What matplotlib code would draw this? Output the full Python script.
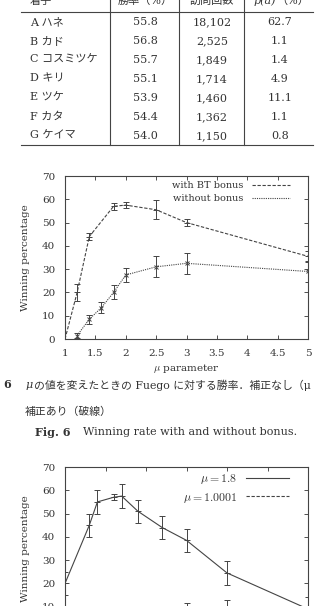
import matplotlib
matplotlib.use('Agg')
import matplotlib.pyplot as plt
from matplotlib.lines import Line2D

plt.rcParams['font.family'] = ['DejaVu Serif', 'Noto Sans CJK JP']
plt.rcParams['mathtext.fontset'] = 'cm'

# table
header = ['着手', '勝率（%）', '訪問回数']
moves = ['A ハネ', 'B カド', 'C コスミツケ', 'D キリ', 'E ツケ', 'F カタ', 'G ケイマ']
win_rate = [55.8, 56.8, 55.7, 55.1, 53.9, 54.4, 54.0]
visits = [18102, 2525, 1849, 1714, 1460, 1362, 1150]
prob = [62.7, 1.1, 1.4, 4.9, 11.1, 1.1, 0.8]

# Fig. 6
mu_bt = [1.0, 1.2, 1.4, 1.8, 2.0, 2.5, 3.0, 5.0]
win_bt = [0, 20, 44, 57, 57.5, 55.5, 50, 35.5]
err_bt = [0, 3.5, 1.5, 1.5, 1.2, 4, 1.5, 2.5]
mu_nb = [1.2, 1.4, 1.6, 1.8, 2.0, 2.5, 3.0, 5.0]
win_nb = [1.5, 8.5, 13.5, 20, 27.5, 31, 32.5, 29]
err_nb = [1, 2, 2.5, 3, 3, 4.5, 4.5, 4.5]

# Fig. 7 (lower part cut off)
x7 = [0, 0.6, 0.8, 1.2, 1.4, 1.8, 2.4, 3, 4, 6]
win_18 = [20, 45, 55, 57, 57.5, 51, 44, 38.5, 24.5, 9]
err_18 = [5, 5, 5, 1.2, 5, 5, 5, 5, 5, 5]
win_10001 = [0, 1, 2, 3, 4, 4, 5, 7, 8, 5]
err_10001 = [0.5, 1.5, 2, 2.5, 2.5, 3, 4, 4.5, 5, 4]

W, H = 316, 606
TXT = '#333333'
LN = '#444444'

fig = plt.figure(figsize=(W / 100, H / 100), dpi=100)
fig.patch.set_facecolor('white')


def fx(px):
    return px / W


def fy(py):
    return 1 - py / H


def ftext(x, y, s, **kw):
    kw.setdefault('fontsize', 8)
    kw.setdefault('color', TXT)
    kw.setdefault('va', 'center')
    fig.text(fx(x), fy(y), s, **kw)


def hline(x0, x1, y):
    fig.add_artist(Line2D([fx(x0), fx(x1)], [fy(y), fy(y)], color=LN, lw=0.8,
                          transform=fig.transFigure))


def vline(x, y0, y1):
    fig.add_artist(Line2D([fx(x), fx(x)], [fy(y0), fy(y1)], color=LN, lw=0.8,
                          transform=fig.transFigure))


# ---- table ----
col_c = [145, 212, 280]
ftext(30, 1, header[0])
ftext(col_c[0], 1, header[1], ha='center')
ftext(col_c[1], 1, header[2], ha='center')
ftext(col_c[2] - 4, 1, 'p(a)', ha='right', style='italic')
ftext(col_c[2] - 4, 1, '（%）', ha='left')
hline(21, 313, 12)
hline(21, 313, 145)
for x in [110, 179, 244]:
    vline(x, 0, 145)
for i, m in enumerate(moves):
    y = 22 + i * 19
    ftext(30, y, m)
    ftext(col_c[0], y, '%.1f' % win_rate[i], ha='center')
    ftext(col_c[1], y, '{:,}'.format(visits[i]), ha='center')
    ftext(col_c[2], y, '%.1f' % prob[i], ha='center')


def style_axes(ax):
    ax.set_ylim(0, 70)
    ax.set_yticks(range(0, 71, 10))
    ax.tick_params(direction='in', top=True, right=True, length=3, width=0.6,
                   labelsize=7.5, pad=7, colors=TXT)
    for sp in ax.spines.values():
        sp.set_linewidth(0.8)
        sp.set_color(LN)
    ax.set_ylabel('Winning percentage', fontsize=7.5, color=TXT)
    ax.yaxis.set_label_coords(-0.144, 0.5)


# ---- Fig. 6 ----
ax1 = fig.add_axes([fx(65), fy(339), 243 / W, 163 / H])
ax1.errorbar(mu_bt, win_bt, yerr=err_bt, color=LN, lw=0.8, dashes=(3, 1.5),
             marker='+', ms=4, mew=0.7, capsize=2.5, elinewidth=0.7)
ax1.errorbar(mu_nb, win_nb, yerr=err_nb, color=LN, lw=0.8, dashes=(1, 1),
             marker='x', ms=3, mew=0.7, capsize=2.5, elinewidth=0.7)
ax1.set_xlim(1, 5)
ax1.set_xticks([1, 1.5, 2, 2.5, 3, 3.5, 4, 4.5, 5])
ax1.set_xticklabels(['1', '1.5', '2', '2.5', '3', '3.5', '4', '4.5', '5'])
style_axes(ax1)
ax1.set_xlabel(r'$\mu$ parameter', fontsize=7.5, color=TXT)
ax1.xaxis.set_label_coords(0.5, -0.141)
h1 = [Line2D([], [], color=LN, lw=0.8, dashes=(3, 1.5)),
      Line2D([], [], color=LN, lw=0.8, dashes=(1, 1))]
ax1.legend(h1, ['with BT bonus', 'without bonus'], loc='upper right',
           bbox_to_anchor=(1 - 12 / 243, 1.005), frameon=False, markerfirst=False,
           handlelength=3.9, handletextpad=0.9, labelspacing=0.45,
           borderaxespad=0.2, fontsize=7, labelcolor=TXT)

# ---- captions ----
ftext(3, 385, '6', fontweight='bold')
ftext(26, 385, 'μ', style='italic')
ftext(34, 385, 'の値を変えたときの Fuego に対する勝率．補正なし（μ', fontsize=7.8)
ftext(25, 412, '補正あり（破線）', fontsize=7.8)
ftext(35, 432, 'Fig. 6', fontweight='bold')
ftext(83, 432, 'Winning rate with and without bonus.')

# ---- Fig. 7 ----
ax2 = fig.add_axes([fx(65), fy(630), 243 / W, 163 / H])
ax2.errorbar(x7, win_18, yerr=err_18, color=LN, lw=0.8,
             marker='+', ms=4, mew=0.7, capsize=2.5, elinewidth=0.7)
ax2.errorbar(x7, win_10001, yerr=err_10001, color=LN, lw=0.8, dashes=(3, 1.5),
             marker='x', ms=3, mew=0.7, capsize=2.5, elinewidth=0.7)
ax2.set_xlim(0, 6)
ax2.set_xticks(range(0, 7))
style_axes(ax2)
ax2.tick_params(labelbottom=False)
h2 = [Line2D([], [], color=LN, lw=0.8),
      Line2D([], [], color=LN, lw=0.8, dashes=(3, 1.5))]
ax2.legend(h2, [r'$\mu = 1.8$', r'$\mu = 1.0001$'], loc='upper right',
           bbox_to_anchor=(1 - 12 / 243, 1.01), frameon=False, markerfirst=False,
           handlelength=3.6, handletextpad=0.8, labelspacing=0.35,
           borderaxespad=0.2, fontsize=8.5, labelcolor=TXT)

fig.savefig('out.png', dpi=100)
